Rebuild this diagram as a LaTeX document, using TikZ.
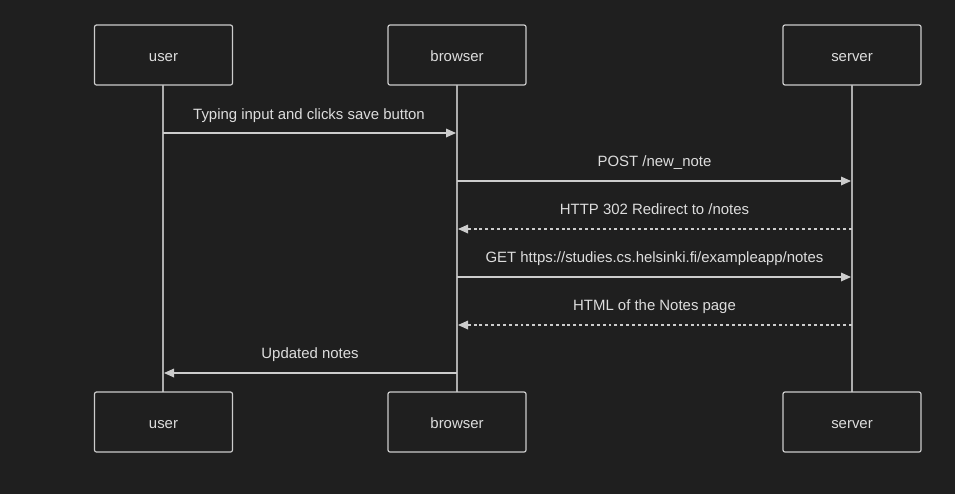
\documentclass[tikz,border=0pt]{standalone}
\usepackage{fontspec}
\setmainfont{Liberation Sans}
\usetikzlibrary{arrows.meta}
\definecolor{bg}{HTML}{1F1F1F}
\definecolor{fg}{HTML}{CCCCCC}
\definecolor{txt}{HTML}{DDDDDD}
\newlength{\pxu}\setlength{\pxu}{0.75pt}
\tikzset{
  actor/.style={draw=fg, fill=bg, line width=0.9pt, rounded corners=1.5pt, minimum width=138\pxu, minimum height=60\pxu},
  atext/.style={text=txt, font=\fontsize{11.2}{13}\selectfont, inner sep=0pt, anchor=base},
  life/.style={draw=fg!85!black, line width=1.3pt},
  msg/.style={draw=fg, line width=0.9pt, -{Triangle[length=7.5pt,width=6.5pt]}},
  reply/.style={msg, dash pattern=on 2.2pt off 2.2pt},
  lbl/.style={text=txt, font=\fontsize{11.2}{13}\selectfont, inner sep=0pt, anchor=base}
}
\begin{document}
\begin{tikzpicture}[x=0.75pt,y=-0.75pt]
\fill[bg] (0,0) rectangle (955,494);
\useasboundingbox (0,0) rectangle (955,494);
% lifelines
\coordinate (u0) at (163,85); \coordinate (u1) at (163,392);
\coordinate (b0) at (457,85); \coordinate (b1) at (457,392);
\coordinate (s0) at (852,85); \coordinate (s1) at (852,392);
\draw[life] (u0) -- (u1);
\draw[life] (b0) -- (b1);
\draw[life] (s0) -- (s1);
% actors
\node[actor] (ut) at (163.5,55) {};
\node[actor] (bt) at (457,55) {};
\node[actor] (st) at (852,55) {};
\node[actor] (ub) at (163.5,422) {};
\node[actor] (bb) at (457,422) {};
\node[actor] (sb) at (852,422) {};
\node[atext] (utl) at (163.5,61) {user};
\node[atext] (btl) at (457,61) {browser};
\node[atext] (stl) at (852,61) {server};
\node[atext] (ubl) at (163.5,428) {user};
\node[atext] (bbl) at (457,428) {browser};
\node[atext] (sbl) at (852,428) {server};
% message endpoints
\coordinate (m1a) at (163,133); \coordinate (m1b) at (456,133);
\coordinate (m2a) at (457,181); \coordinate (m2b) at (851,181);
\coordinate (m3a) at (852,229); \coordinate (m3b) at (458,229);
\coordinate (m4a) at (457,277); \coordinate (m4b) at (851,277);
\coordinate (m5a) at (852,325); \coordinate (m5b) at (458,325);
\coordinate (m6a) at (457,373); \coordinate (m6b) at (164,373);
\draw[msg] (m1a) -- (m1b);
\draw[msg] (m2a) -- (m2b);
\draw[reply] (m3a) -- (m3b);
\draw[msg] (m4a) -- (m4b);
\draw[reply] (m5a) -- (m5b);
\draw[msg] (m6a) -- (m6b);
% labels
\node[lbl] (l1) at (309,119) {Typing input and clicks save button};
\node[lbl] (l2) at (654.5,166.5) {POST /new\_note};
\node[lbl] (l3) at (654.5,214.5) {HTTP 302 Redirect to /notes};
\node[lbl] (l4) at (654.5,262.5) {GET https://studies.cs.helsinki.fi/exampleapp/notes};
\node[lbl] (l5) at (654.5,310.5) {HTML of the Notes page};
\node[lbl] (l6) at (310,358.5) {Updated notes};
\end{tikzpicture}
\end{document}
